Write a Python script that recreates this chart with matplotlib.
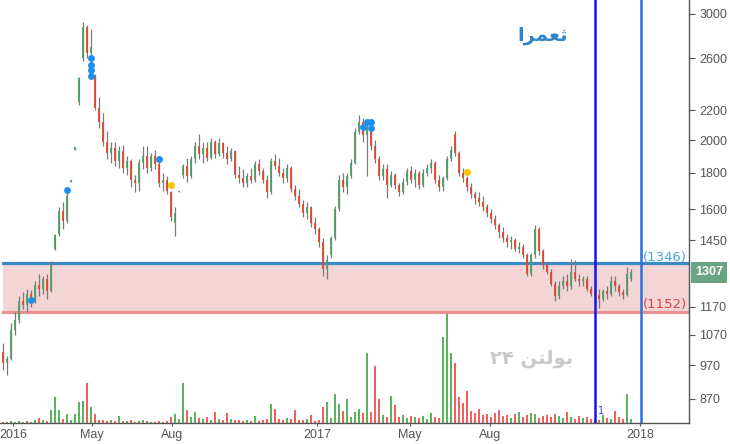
import matplotlib
matplotlib.use("Agg")
import matplotlib.pyplot as plt
import matplotlib.transforms as mtransforms

# daily bars (trading-day index on the x axis)
opens = [1010, 975, 990, 1085, 1120, 1190, 1175, 1220, 1190, 1255,
         1240, 1280, 1230, 1410, 1480, 1590, 1540, 1750, 1940, 2260,
         2600, 2880, 2650, 2450, 2220, 2120, 1990, 1920, 1950, 1870,
         1930, 1830, 1870, 1760, 1740, 1860, 1900, 1830, 1900, 1850,
         1740, 1760, 1690, 1530, 1690, 1790, 1840, 1780, 1880, 1960,
         1910, 1950, 1890, 1990, 1910, 1980, 1920, 1880, 1930, 1790,
         1770, 1740, 1780, 1760, 1850, 1810, 1760, 1690, 1870, 1840,
         1800, 1770, 1830, 1710, 1670, 1630, 1580, 1610, 1530, 1500,
         1440, 1320, 1380, 1460, 1600, 1760, 1720, 1780, 1860, 2050,
         2120, 2030, 2080, 1960, 1880, 1780, 1820, 1730, 1790, 1730,
         1690, 1750, 1810, 1760, 1800, 1730, 1800, 1830, 1860, 1760,
         1720, 1770, 1880, 2040, 1920, 1800, 1770, 1720, 1680, 1660,
         1640, 1610, 1580, 1550, 1520, 1490, 1460, 1440, 1450, 1410,
         1420, 1380, 1300, 1380, 1500, 1400, 1340, 1310, 1260, 1210,
         1250, 1270, 1250, 1310, 1280, 1270, 1280, 1240, 1220, 1215,
         1200, 1230, 1220, 1270, 1250, 1225, 1215, 1280]
highs = [1040, 1000, 1110, 1150, 1210, 1225, 1240, 1235, 1270, 1300,
         1290, 1300, 1355, 1480, 1610, 1640, 1690, 1760, 1955, 2450,
         2920, 2900, 2860, 2470, 2300, 2180, 2060, 1990, 1990, 1960,
         1970, 1900, 1880, 1790, 1880, 1960, 1960, 1920, 1940, 1880,
         1800, 1780, 1700, 1610, 1700, 1850, 1890, 1900, 1990, 2040,
         1990, 1990, 2010, 2000, 2010, 1990, 1960, 1950, 1940, 1840,
         1820, 1800, 1830, 1870, 1880, 1830, 1790, 1890, 1910, 1890,
         1830, 1850, 1840, 1730, 1710, 1650, 1640, 1620, 1560, 1510,
         1460, 1380, 1470, 1620, 1790, 1800, 1800, 1880, 2080, 2170,
         2150, 2110, 2090, 2000, 1900, 1850, 1850, 1810, 1800, 1740,
         1770, 1830, 1840, 1820, 1810, 1820, 1850, 1880, 1870, 1790,
         1780, 1900, 1960, 2060, 1930, 1830, 1780, 1740, 1700, 1690,
         1670, 1630, 1600, 1570, 1530, 1510, 1480, 1470, 1460, 1440,
         1430, 1390, 1390, 1520, 1510, 1410, 1350, 1320, 1270, 1270,
         1290, 1300, 1365, 1360, 1300, 1290, 1290, 1250, 1240, 1240,
         1240, 1250, 1290, 1290, 1260, 1240, 1330, 1320]
lows = [955, 940, 985, 1070, 1110, 1160, 1150, 1170, 1185, 1210,
        1220, 1200, 1225, 1405, 1470, 1500, 1530, 1750, 1940, 2240,
        2580, 2600, 2560, 2200, 2080, 1960, 1880, 1860, 1840, 1830,
        1800, 1790, 1720, 1690, 1700, 1820, 1800, 1810, 1820, 1720,
        1700, 1680, 1540, 1470, 1690, 1770, 1750, 1770, 1860, 1880,
        1860, 1870, 1880, 1890, 1900, 1890, 1850, 1870, 1770, 1740,
        1720, 1720, 1740, 1750, 1790, 1740, 1660, 1680, 1820, 1780,
        1740, 1750, 1690, 1650, 1610, 1560, 1550, 1510, 1480, 1420,
        1290, 1280, 1370, 1450, 1590, 1690, 1680, 1770, 1850, 2040,
        1990, 1780, 1940, 1860, 1760, 1760, 1660, 1720, 1710, 1670,
        1680, 1730, 1740, 1720, 1710, 1720, 1780, 1800, 1740, 1700,
        1700, 1760, 1870, 1900, 1780, 1750, 1700, 1660, 1630, 1620,
        1590, 1560, 1530, 1500, 1460, 1440, 1420, 1410, 1400, 1390,
        1370, 1290, 1290, 1370, 1380, 1320, 1300, 1250, 1190, 1200,
        1240, 1230, 1240, 1270, 1250, 1250, 1230, 1210, 1200, 1165,
        1190, 1200, 1210, 1230, 1210, 1200, 1210, 1270]
closes = [975, 990, 1085, 1120, 1190, 1175, 1220, 1190, 1255, 1240,
          1280, 1230, 1340, 1475, 1590, 1540, 1670, 1760, 1955, 2440,
          2880, 2650, 2700, 2220, 2120, 1990, 1920, 1950, 1870, 1930,
          1830, 1870, 1760, 1740, 1860, 1900, 1830, 1900, 1850, 1740,
          1760, 1700, 1560, 1580, 1700, 1840, 1780, 1880, 1960, 1910,
          1950, 1890, 1990, 1910, 1980, 1920, 1880, 1930, 1790, 1770,
          1740, 1780, 1760, 1850, 1810, 1760, 1690, 1870, 1840, 1800,
          1770, 1830, 1710, 1670, 1630, 1580, 1610, 1530, 1500, 1440,
          1320, 1360, 1460, 1600, 1760, 1720, 1780, 1860, 2050, 2120,
          2030, 2080, 1960, 1880, 1780, 1820, 1730, 1790, 1730, 1690,
          1750, 1810, 1760, 1800, 1730, 1800, 1830, 1860, 1760, 1720,
          1770, 1880, 1940, 1920, 1800, 1770, 1720, 1680, 1660, 1640,
          1610, 1580, 1550, 1520, 1490, 1460, 1440, 1450, 1410, 1420,
          1380, 1300, 1380, 1500, 1400, 1340, 1310, 1260, 1210, 1250,
          1270, 1250, 1310, 1280, 1270, 1280, 1240, 1220, 1215, 1200,
          1230, 1220, 1270, 1250, 1225, 1215, 1300, 1307]
volumes = [0.1, 0.1, 0.2, 0.1, 0.2, 0.1, 0.2, 0.1, 0.3, 0.5,
           0.3, 0.2, 1.3, 2.6, 1.3, 0.4, 0.9, 0.3, 0.9, 2.1,
           2.2, 3.9, 1.6, 0.9, 0.3, 0.3, 0.2, 0.3, 0.2, 0.7,
           0.2, 0.2, 0.3, 0.1, 0.2, 0.3, 0.2, 0.1, 0.1, 0.2,
           0.1, 0.2, 0.6, 0.9, 0.4, 3.9, 1.3, 0.6, 1.1, 0.5,
           0.4, 0.6, 0.3, 1.1, 0.4, 0.3, 1.0, 0.4, 0.3, 0.3,
           0.2, 0.3, 0.2, 0.7, 0.2, 0.3, 0.4, 1.9, 1.4, 0.4,
           0.3, 0.5, 0.4, 1.3, 0.3, 0.3, 0.4, 0.8, 0.2, 0.3,
           1.6, 2.1, 0.5, 2.8, 1.9, 1.2, 2.4, 0.6, 1.1, 1.4,
           1.0, 6.9, 1.1, 5.6, 2.4, 0.8, 0.6, 2.7, 1.8, 0.6,
           0.8, 0.5, 0.7, 0.6, 0.5, 0.7, 0.4, 1.0, 0.6, 0.5,
           8.4, 10.9, 6.9, 5.9, 2.6, 2.0, 3.1, 1.2, 1.0, 1.4,
           0.8, 0.9, 0.6, 1.0, 1.3, 0.7, 0.8, 0.5, 0.9, 1.1,
           0.6, 0.8, 1.0, 0.9, 0.5, 0.7, 0.8, 0.6, 0.9, 0.7,
           0.5, 1.1, 0.6, 0.4, 0.7, 0.5, 0.6, 0.4, 0.2, 0.3,
           0.8, 0.5, 0.4, 1.2, 0.6, 0.4, 2.8, 0.4]

# signal markers
blue_idx = [7, 16, 22, 22, 22, 22, 39, 90, 91, 92, 92]
blue_px = [1195, 1705, 2600, 2550, 2505, 2460, 1880, 2085, 2120, 2120, 2080]
yellow_idx = [42, 116]
yellow_px = [1730, 1805]

resistance = 1346
support = 1152
last_price = 1307
marker_lines = [148, 159.5]

y_ticks = [870, 970, 1070, 1170, 1450, 1600, 1800, 2000, 2200, 2600, 3000]
x_ticks = [2.5, 22.25, 42.25, 78.5, 101.75, 121.75, 159.25]
x_labels = ["2016", "May", "Aug", "2017", "May", "Aug", "2018"]

UP = "#4f9e68"
DOWN = "#e2472e"
WICK = "#7a7a7a"
AXC = "#555555"

fig = plt.figure(figsize=(7.3, 4.44), dpi=100)
rect = [0, 21 / 444, 689 / 730, 423 / 444]
n = len(closes)
idx = list(range(n))
xlim = (-0.75, 171.5)

# volume underneath
axv = fig.add_axes(rect)
vcol = ["#5db35d" if c >= o else "#f55f5f" for o, c in zip(opens, closes)]
axv.bar(idx, volumes, width=0.7, color=vcol, linewidth=0)
axv.set_xlim(*xlim)
axv.set_ylim(0, max(volumes) * 423 / 111)
axv.axis("off")

ax = fig.add_axes(rect)
ax.patch.set_visible(False)
ax.set_yscale("log")
ax.set_xlim(*xlim)
ax.set_ylim(805, 3138)

ax.axhspan(support, resistance, xmin=3 / 689, color="#f4d5d5", zorder=0, lw=0)
ax.axhline(resistance, xmin=3 / 689, color="#3a8ac3", lw=2.3, zorder=1)
ax.axhline(support, xmin=3 / 689, color="#e89393", lw=2.3, zorder=1)

ax.vlines(idx, lows, highs, color=WICK, lw=0.9, zorder=3)
body_c = [UP if c >= o else DOWN for o, c in zip(opens, closes)]
ax.vlines(idx, opens, closes, color=body_c, lw=1.3, zorder=4)

ax.plot(blue_idx, blue_px, "o", color="#1e8fef", ms=5, mec="none", zorder=5)
ax.plot(yellow_idx, yellow_px, "o", color="#f5c800", ms=5, mec="none", zorder=5)

ax.axvline(marker_lines[0], color="#1414f0", lw=1.8, zorder=6)
ax.axvline(marker_lines[1], color="#2d6fdc", lw=1.8, zorder=6)

ax.text(159.9, 1372, "(1346)", color="#4ba4d8", fontsize=9.5,
        family="DejaVu Sans", va="center", ha="left", zorder=7)
ax.text(159.9, 1180, "(1152)", color="#d94343", fontsize=9.5,
        family="DejaVu Sans", va="center", ha="left", zorder=7)

# presentation forms so the Arabic letters join without a shaping engine
ax.text(0.787, 0.915, "\u0627\ufeae\ufee4\ufecc\ufe9b", transform=ax.transAxes,
        color="#2e86c8", fontsize=14, fontweight="bold", family=["DejaVu Sans"],
        ha="center", va="center")
ax.text(0.772, 0.153, "\u06f2\u06f4 \ufee6\ufe98\ufedf\ufeee\ufe91", transform=ax.transAxes,
        color="#c9c9c9", fontsize=14, fontweight="bold", family=["DejaVu Sans"],
        ha="center", va="center")
ax.text(149.6, 0.028, "1", transform=mtransforms.blended_transform_factory(ax.transData, ax.transAxes),
        color="#2a3cff", fontsize=7, ha="center", va="center")

# last price tag on the price scale
tr = mtransforms.blended_transform_factory(ax.transAxes, ax.transData)
ax.text(1.0 + 6 / 689, last_price, str(last_price), transform=tr, color="white",
        fontsize=9, fontweight="bold", family="Liberation Sans", va="center", ha="left",
        bbox=dict(boxstyle="square,pad=0.35", fc="#6aa583", ec="none"), clip_on=False)

ax.yaxis.tick_right()
ax.set_yticks(y_ticks)
ax.set_yticklabels([str(v) for v in y_ticks])
ax.yaxis.set_minor_locator(matplotlib.ticker.NullLocator())
ax.set_xticks(x_ticks)
ax.set_xticklabels(x_labels)
ax.tick_params(axis="both", colors=AXC, labelcolor=AXC, labelsize=9, length=4, width=0.8)
ax.tick_params(axis="x", length=2, pad=2)
for lab in ax.get_xticklabels() + ax.get_yticklabels():
    lab.set_family("Liberation Sans")

for s in ["left", "top"]:
    ax.spines[s].set_visible(False)
for s in ["right", "bottom"]:
    ax.spines[s].set_color(AXC)
    ax.spines[s].set_linewidth(1.0)

fig.savefig("out.png", dpi=100)
